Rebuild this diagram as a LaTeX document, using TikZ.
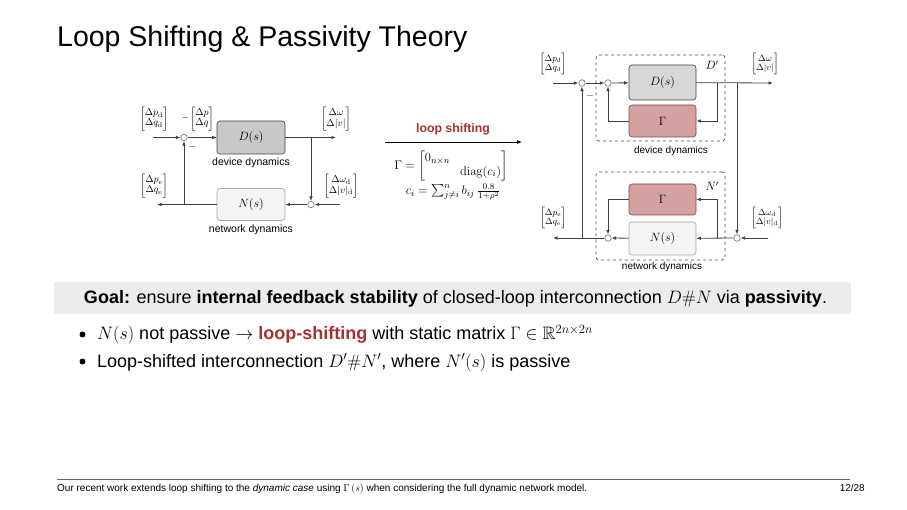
\RequirePackage{fix-cm}
\documentclass[tikz,border=0pt]{standalone}
\usepackage{amsmath,amssymb}
\usepackage[no-math]{fontspec}
\setmainfont{Liberation Sans}
\usetikzlibrary{arrows.meta}
\definecolor{lsred}{RGB}{168,48,48}
\definecolor{dgray}{RGB}{200,200,200}
\definecolor{dgrayb}{RGB}{215,215,215}
\definecolor{ngray}{RGB}{244,244,244}
\definecolor{gfill}{RGB}{212,160,160}
\definecolor{gdraw}{RGB}{120,70,70}
\definecolor{goalbg}{RGB}{236,236,236}
\newcommand\fsz[1]{\fontsize{#1}{#1}\selectfont}
\begin{document}
\begin{tikzpicture}[x=1pt,y=-1pt,
  ln/.style={draw=black!75, line width=0.8pt},
  arr/.style={ln,-{Latex[length=4.5pt,width=3.6pt]}},
  sumn/.style={circle,draw=black!55,fill=white,line width=0.6pt,minimum size=6.5pt,inner sep=0pt},
  blk/.style={rounded corners=3pt, line width=0.6pt, minimum width=68pt, inner sep=0pt, font=\fsz{12}},
  dblk/.style={blk, draw=black!75, fill=dgray},
  nblk/.style={blk, draw=black!35, fill=ngray},
  gblk/.style={blk, draw=gdraw, fill=gfill},
  dbox/.style={draw=black!70, dashed, line width=0.7pt, rounded corners=3pt, inner sep=0pt},
  mlbl/.style={font=\fsz{10}, inner sep=0pt},
  smlbl/.style={font=\fsz{9}, inner sep=0pt},
  capt/.style={font=\fsz{10.5}, inner sep=0pt},
  scapt/.style={font=\fsz{10}, inner sep=0pt},
  body/.style={font=\fsz{18}, inner sep=0pt}]
\useasboundingbox (0,0) rectangle (907,510);

% title
\node[anchor=base west, font=\fsz{28.5}, inner sep=0pt] (title) at (57,47) {Loop Shifting \& Passivity Theory};

% ---------------- left diagram ----------------
\node[dblk, minimum height=33pt] (D1) at (251,137.5) {$D(s)$};
\node[nblk, minimum height=32pt] (N1) at (251,204.5) {$N(s)$};
\node[sumn] (s1) at (184,137.5) {};
\node[sumn] (s2) at (311,204.5) {};
\coordinate (in1) at (153,137.5);
\coordinate (out1) at (336,137.5);
\coordinate (b1) at (311,137.5);
\coordinate (in2) at (340,204.5);
\coordinate (out2) at (157,204.5);
\coordinate (b2) at (184,204.5);
\draw[arr] (in1) -- (s1);
\draw[arr] (s1) -- (D1);
\draw[arr] (D1) -- (out1);
\draw[arr] (b1) -- (s2);
\draw[arr] (in2) -- (s2);
\draw[arr] (s2) -- (N1);
\draw[arr] (N1) -- (out2);
\draw[arr] (b2) -- (s1);
\node[capt] (dd1) at (251,162.5) {device dynamics};
\node[capt] (nd1) at (251,229.5) {network dynamics};
\node[mlbl] (l1) at (154,119) {$\begin{bmatrix}\Delta p_{\mathrm{d}}\\ \Delta q_{\mathrm{d}}\end{bmatrix}$};
\node[mlbl] (l2) at (202,119) {$\begin{bmatrix}\Delta p\\ \Delta q\end{bmatrix}$};
\node[mlbl] (m1) at (185.5,118) {$-$};
\node[mlbl] (m2) at (192.5,147.5) {$-$};
\node[mlbl] (l3) at (336,119) {$\begin{bmatrix}\Delta \omega\\ \Delta |v|\end{bmatrix}$};
\node[mlbl] (l4) at (154,186) {$\begin{bmatrix}\Delta p_{\mathrm{e}}\\ \Delta q_{\mathrm{e}}\end{bmatrix}$};
\node[mlbl] (l5) at (341,186) {$\begin{bmatrix}\Delta \omega_{\mathrm{d}}\\ \Delta |v|_{\mathrm{d}}\end{bmatrix}$};

% ---------------- middle ----------------
\node[font=\fsz{12.3}\bfseries, text=lsred, inner sep=0pt] (ls) at (453,129) {loop shifting};
\coordinate (la) at (385,142);
\coordinate (lb) at (522,142);
\draw[line width=0.8pt, -{Latex[length=5pt,width=4pt]}] (la) -- (lb);
\node[font=\fsz{12.5}, inner sep=0pt] (gm) at (451,166) {$\Gamma=\begin{bmatrix}0_{n\times n} & \\ & \mathrm{diag}(c_i)\end{bmatrix}$};
\node[font=\fsz{12.5}, inner sep=0pt] (ci) at (453,192) {$c_i=\sum_{j\neq i}^n b_{ij}\,\frac{0.8}{1+\rho^2}$};

% ---------------- right diagram ----------------
\node[dbox, minimum width=129pt, minimum height=86pt] (Dp) at (660.5,98) {};
\node[dbox, minimum width=129pt, minimum height=88pt] (Np) at (660.5,216) {};
\node[dblk, fill=dgrayb, minimum width=67pt, minimum height=35pt] (D2) at (662.5,82.5) {$D(s)$};
\node[gblk, minimum width=67pt, minimum height=32pt] (G1) at (662.5,121) {$\Gamma$};
\node[gblk, minimum width=67pt, minimum height=31pt] (G2) at (662.5,199.5) {$\Gamma$};
\node[nblk, minimum width=67pt, minimum height=33pt] (N2) at (662.5,238.5) {$N(s)$};
\node[sumn] (r1) at (582,83) {};
\node[sumn] (r2) at (608,83) {};
\node[sumn] (r3) at (608,238) {};
\node[sumn] (r4) at (737,238) {};
\coordinate (rin1) at (553,83);
\coordinate (rout1) at (773,83);
\coordinate (rb1) at (717,83);
\coordinate (rb1d) at (717,121);
\coordinate (rg1l) at (608,121);
\coordinate (rb2) at (737,83);
\coordinate (rin2) at (768,238);
\coordinate (rout2) at (553,238);
\coordinate (rb3) at (717,238);
\coordinate (rb3u) at (717,199.5);
\coordinate (rg2l) at (608,199.5);
\coordinate (rb4) at (582,238);
\draw[arr] (rin1) -- (r1);
\draw[arr] (r1) -- (r2);
\draw[arr] (r2) -- (D2);
\draw[arr] (D2) -- (rout1);
\draw[arr] (rb1) -- (rb1d) -- (G1);
\draw[arr] (G1) -- (rg1l) -- (r2);
\draw[arr] (rb2) -- (r4);
\draw[arr] (rin2) -- (r4);
\draw[arr] (r4) -- (N2);
\draw[arr] (rb3) -- (rb3u) -- (G2);
\draw[arr] (G2) -- (rg2l) -- (r3);
\draw[arr] (N2) -- (r3);
\draw[arr] (r3) -- (rout2);
\draw[arr] (rb4) -- (r1);
\node[font=\fsz{12}, inner sep=0pt] (Dl) at (712,65) {$D'$};
\node[font=\fsz{12}, inner sep=0pt] (Nl) at (712,186) {$N'$};
\node[scapt] (dd2) at (671,151) {device dynamics};
\node[scapt] (nd2) at (662,267) {network dynamics};
\node[mlbl] (m3) at (590,96.5) {$-$};
\node[smlbl] (rl1) at (553,64) {$\begin{bmatrix}\Delta p_{\mathrm{d}}\\ \Delta q_{\mathrm{d}}\end{bmatrix}$};
\node[smlbl] (rl2) at (765,64) {$\begin{bmatrix}\Delta \omega\\ \Delta |v|\end{bmatrix}$};
\node[smlbl] (rl3) at (553,218) {$\begin{bmatrix}\Delta p_{\mathrm{e}}\\ \Delta q_{\mathrm{e}}\end{bmatrix}$};
\node[smlbl] (rl4) at (767,218) {$\begin{bmatrix}\Delta \omega_{\mathrm{d}}\\ \Delta |v|_{\mathrm{d}}\end{bmatrix}$};

% ---------------- goal box ----------------
\fill[goalbg] (54,282) rectangle (851,314);
\node[body, anchor=base] (goal) at (455.5,303.5) {\textbf{Goal:} ensure \textbf{internal feedback stability} of closed-loop interconnection $D\#N$ via \textbf{passivity}.};

% ---------------- bullets ----------------
\fill (82.5,334.5) circle (3pt);
\fill (82.5,361.5) circle (3pt);
\node[body, anchor=base west] (b1t) at (97,340) {$N(s)$ not passive $\rightarrow$ \textcolor{lsred}{\textbf{loop-shifting}} with static matrix $\Gamma\in\mathbb{R}^{2n\times 2n}$};
\node[body, anchor=base west] (b2t) at (97,367.5) {Loop-shifted interconnection $D'\#N'$, where $N'(s)$ is passive};

% ---------------- footer ----------------
\draw[black!60, line width=0.5pt] (57,479.5) -- (850,479.5);
\node[font=\fsz{10}, inner sep=0pt, anchor=base west] (foot) at (57,491) {Our recent work extends loop shifting to the \textit{dynamic case} using $\Gamma\,(s)$ when considering the full dynamic network model.};
\node[font=\fsz{10}, inner sep=0pt, anchor=base east] (pg) at (865,491) {12/28};
\end{tikzpicture}
\end{document}
